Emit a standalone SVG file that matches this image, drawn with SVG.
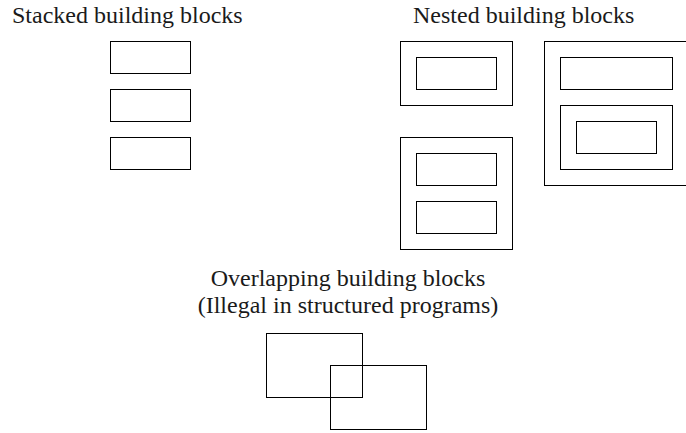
<svg xmlns="http://www.w3.org/2000/svg" width="686" height="433" viewBox="0 0 686 433">
<style>
.b{fill:none;stroke:#000;stroke-width:1}
.t{font-family:"Liberation Serif","Times New Roman",serif;font-size:24px;fill:#1a1a1a}
</style>
<rect width="686" height="433" fill="#fff"/>
<g id="titles">
<text class="t" x="12" y="23">Stacked building blocks</text>
<text class="t" x="413" y="23">Nested building blocks</text>
<text class="t" x="348" y="286" text-anchor="middle">Overlapping building blocks</text>
<text class="t" x="348" y="313" text-anchor="middle">(Illegal in structured programs)</text>
</g>
<g id="stacked">
<rect class="b" x="110.5" y="41.5" width="80" height="32"/>
<rect class="b" x="110.5" y="89.5" width="80" height="32"/>
<rect class="b" x="110.5" y="137.5" width="80" height="32"/>
</g>
<g id="nested-1">
<rect class="b" x="400.5" y="41.5" width="112" height="64"/>
<rect class="b" x="416.5" y="57.5" width="80" height="32"/>
</g>
<g id="nested-2">
<rect class="b" x="400.5" y="137.5" width="112" height="112"/>
<rect class="b" x="416.5" y="153.5" width="80" height="32"/>
<rect class="b" x="416.5" y="201.5" width="80" height="32"/>
</g>
<g id="nested-3">
<rect class="b" x="544.5" y="41.5" width="144" height="144"/>
<rect class="b" x="560.5" y="57.5" width="112" height="32"/>
<rect class="b" x="560.5" y="105.5" width="112" height="64"/>
<rect class="b" x="576.5" y="121.5" width="80" height="32"/>
</g>
<g id="overlapping">
<rect class="b" x="266.5" y="333.5" width="96" height="64"/>
<rect class="b" x="330.5" y="365.5" width="96" height="64"/>
</g>
<g id="connectors"/>
</svg>
